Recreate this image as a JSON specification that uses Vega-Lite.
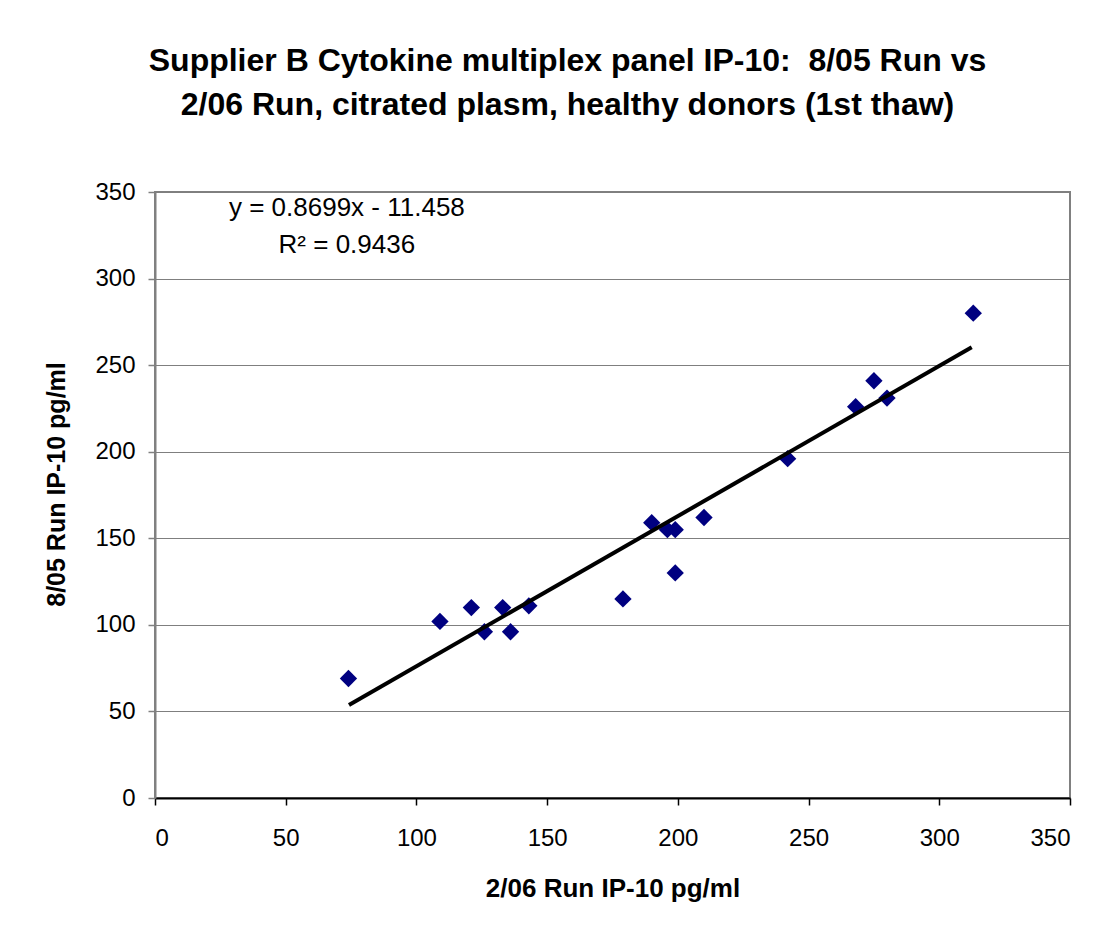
{
  "$schema": "https://vega.github.io/schema/vega-lite/v6.json",
  "width": 915,
  "height": 606,
  "autosize": {"type": "none"},
  "padding": {"left": 155, "top": 192, "right": 40, "bottom": 140},
  "background": "white",
  "title": {
    "text": ["Supplier B Cytokine multiplex panel IP-10:\u00a0 8/05 Run vs", "2/06 Run, citrated plasm, healthy donors (1st thaw)"],
    "font": "Liberation Sans",
    "fontSize": 32,
    "fontWeight": "bold",
    "lineHeight": 44,
    "color": "black",
    "anchor": "middle",
    "dx": -45,
    "offset": 58
  },
  "config": {
    "view": {"stroke": "#808080", "strokeWidth": 2},
    "axis": {
      "labelFont": "Liberation Sans",
      "labelFontSize": 24,
      "labelColor": "black",
      "titleFont": "Liberation Sans",
      "titleFontSize": 25,
      "titleFontWeight": "bold",
      "titleColor": "black",
      "tickSize": 7,
      "domainWidth": 2,
      "tickWidth": 1.5
    }
  },
  "datasets": {
    "points": [
      {"run0206": 74, "run0805": 69},
      {"run0206": 109, "run0805": 102},
      {"run0206": 121, "run0805": 110},
      {"run0206": 126, "run0805": 96},
      {"run0206": 133, "run0805": 110},
      {"run0206": 136, "run0805": 96},
      {"run0206": 143, "run0805": 111},
      {"run0206": 179, "run0805": 115},
      {"run0206": 190, "run0805": 159},
      {"run0206": 196, "run0805": 155},
      {"run0206": 199, "run0805": 155},
      {"run0206": 199, "run0805": 130},
      {"run0206": 210, "run0805": 162},
      {"run0206": 242, "run0805": 196},
      {"run0206": 268, "run0805": 226},
      {"run0206": 275, "run0805": 241},
      {"run0206": 280, "run0805": 231},
      {"run0206": 313, "run0805": 280}
    ],
    "trend": [
      {"run0206": 74.2, "run0805": 53.7},
      {"run0206": 312.4, "run0805": 260.3}
    ],
    "notes": [
      {"run0206": 73.4, "run0805": 336, "label": "y = 0.8699x - 11.458"},
      {"run0206": 73.4, "run0805": 315, "label": "R² = 0.9436"}
    ]
  },
  "layer": [
    {
      "data": {"name": "points"},
      "mark": {"type": "point", "shape": "diamond", "filled": true, "color": "#000080", "size": 300, "opacity": 1},
      "encoding": {
        "x": {
          "field": "run0206", "type": "quantitative",
          "scale": {"domain": [0, 350], "nice": false, "zero": true},
          "axis": {
            "title": "2/06 Run IP-10 pg/ml",
            "titleFontSize": 26,
            "values": [0, 50, 100, 150, 200, 250, 300, 350],
            "grid": false,
            "domainColor": "black",
            "tickColor": "black",
            "labelPadding": 21,
            "titlePadding": 25
          }
        },
        "y": {
          "field": "run0805", "type": "quantitative",
          "scale": {"domain": [0, 350], "nice": false, "zero": true},
          "axis": {
            "title": "8/05 Run IP-10 pg/ml",
            "values": [0, 50, 100, 150, 200, 250, 300, 350],
            "grid": true,
            "gridColor": "#7f7f7f",
            "gridWidth": 1.2,
            "domainColor": "#808080",
            "tickColor": "#808080",
            "labelPadding": 13,
            "titlePadding": 25,
            "titleY": 292
          }
        }
      }
    },
    {
      "data": {"name": "trend"},
      "mark": {"type": "line", "color": "black", "strokeWidth": 4},
      "encoding": {
        "x": {"field": "run0206", "type": "quantitative"},
        "y": {"field": "run0805", "type": "quantitative"}
      }
    },
    {
      "data": {"name": "notes"},
      "mark": {"type": "text", "font": "Liberation Sans", "fontSize": 26, "color": "black", "align": "center", "baseline": "alphabetic"},
      "encoding": {
        "x": {"field": "run0206", "type": "quantitative"},
        "y": {"field": "run0805", "type": "quantitative"},
        "text": {"field": "label"}
      }
    }
  ]
}
